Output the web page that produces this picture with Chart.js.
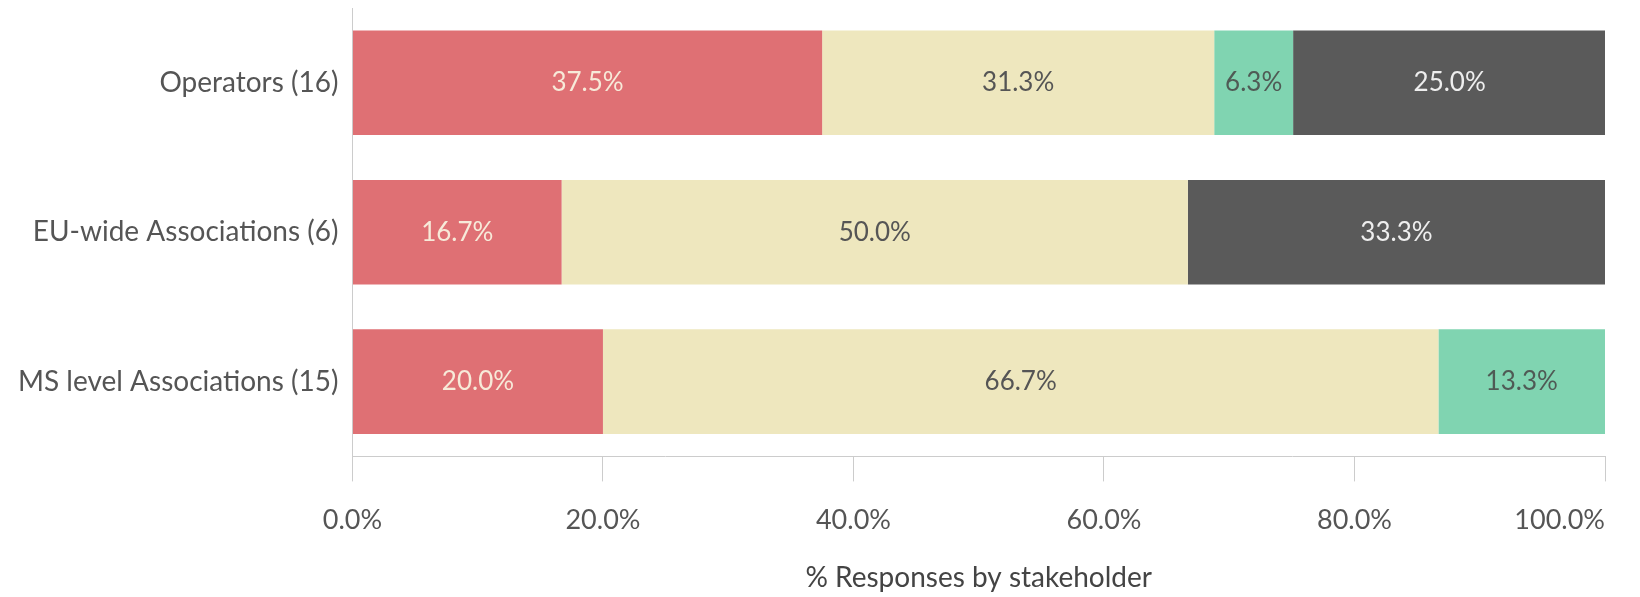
<!DOCTYPE html>
<html lang="en">
<head>
	<meta charset="UTF-8">
	<title>Responses by stakeholder</title>
	<style>
		body {
			margin: 0;
			background-color: white;
		}

		.container {
			width: 1640px;
			height: 597px;
		}
	</style>
	<script src="https://cdn.jsdelivr.net/npm/chart.js"></script>
</head>
<body>
<div class="container">
	<canvas id="chart"></canvas>
</div>
<script>
	// категории и значения (% ответов)
	const stakeholders = ['Operators (16)', 'EU-wide Associations (6)', 'MS level Associations (15)'];
	const disagree = [37.5, 16.7, 20.0];
	const neutral = [31.3, 50.0, 66.7];
	const agree = [6.3, 0, 13.3];
	const noOpinion = [25.0, 33.3, 0];
	const xTicks = [0, 20, 40, 60, 80, 100];

	const fontName = 'Lato, "Open Sans", sans-serif';

	// подписи значений в центре каждого сегмента
	const barLabels = {
		id: 'barLabels',
		afterDatasetsDraw(chart) {
			const ctx = chart.ctx;
			ctx.save();
			ctx.font = '26px ' + fontName;
			ctx.textAlign = 'center';
			ctx.textBaseline = 'middle';
			chart.data.datasets.forEach((ds, i) => {
				const meta = chart.getDatasetMeta(i);
				meta.data.forEach((bar, j) => {
					const v = ds.data[j];
					if (!v) return;
					const p = bar.getCenterPoint();
					ctx.fillStyle = ds.labelColor;
					ctx.fillText(v.toFixed(1) + '%', p.x, p.y);
				});
			});
			ctx.restore();
		}
	};

	// подписи оси X: последняя прижата к правому краю, как в оригинале
	const xTickLabels = {
		id: 'xTickLabels',
		afterDraw(chart) {
			const ctx = chart.ctx;
			const scale = chart.scales.x;
			ctx.save();
			ctx.font = '27px ' + fontName;
			ctx.fillStyle = '#555555';
			ctx.textAlign = 'center';
			ctx.textBaseline = 'middle';
			xTicks.forEach(v => {
				const text = v.toFixed(1) + '%';
				const w = ctx.measureText(text).width;
				let x = scale.getPixelForValue(v);
				x = Math.min(x, chart.chartArea.right - w / 2);
				ctx.fillText(text, x, scale.top + 64);
			});
			ctx.restore();
		}
	};

	new Chart(document.getElementById('chart'), {
		type: 'bar',
		data: {
			labels: stakeholders,
			datasets: [
				{ label: 'Disagree', data: disagree, backgroundColor: '#DF7074', labelColor: '#F7EAD9' },
				{ label: 'Neutral', data: neutral, backgroundColor: '#EEE7BE', labelColor: '#555555' },
				{ label: 'Agree', data: agree, backgroundColor: '#80D4B1', labelColor: '#4F5A55' },
				{ label: 'No opinion', data: noOpinion, backgroundColor: '#5A5A5A', labelColor: '#EEEEEE' }
			]
		},
		options: {
			indexAxis: 'y',
			responsive: true,
			maintainAspectRatio: false,
			animation: false,
			categoryPercentage: 0.7,
			barPercentage: 1,
			layout: { padding: { top: 8, right: 35, left: 12, bottom: 2 } },
			plugins: {
				legend: { display: false },
				tooltip: { enabled: false }
			},
			scales: {
				x: {
					stacked: true,
					min: 0,
					max: 100,
					afterBuildTicks: (axis) => { axis.ticks = xTicks.map(v => ({ value: v })); },
					grid: { display: true, drawOnChartArea: false, drawTicks: true, tickLength: 25, color: '#cccccc' },
					border: { display: true, color: '#cccccc' },
					ticks: { display: false },
					title: {
						display: true,
						text: '% Responses by stakeholder',
						color: '#444444',
						padding: { top: 80, bottom: 0 },
						font: { family: fontName, size: 28 }
					}
				},
				y: {
					stacked: true,
					grid: { display: false },
					border: { display: true, color: '#cccccc' },
					ticks: {
						color: '#555555',
						padding: 6,
						font: { family: fontName, size: 28, lineHeight: 0.1 }
					}
				}
			}
		},
		plugins: [barLabels, xTickLabels]
	});
</script>
</body>
</html>
